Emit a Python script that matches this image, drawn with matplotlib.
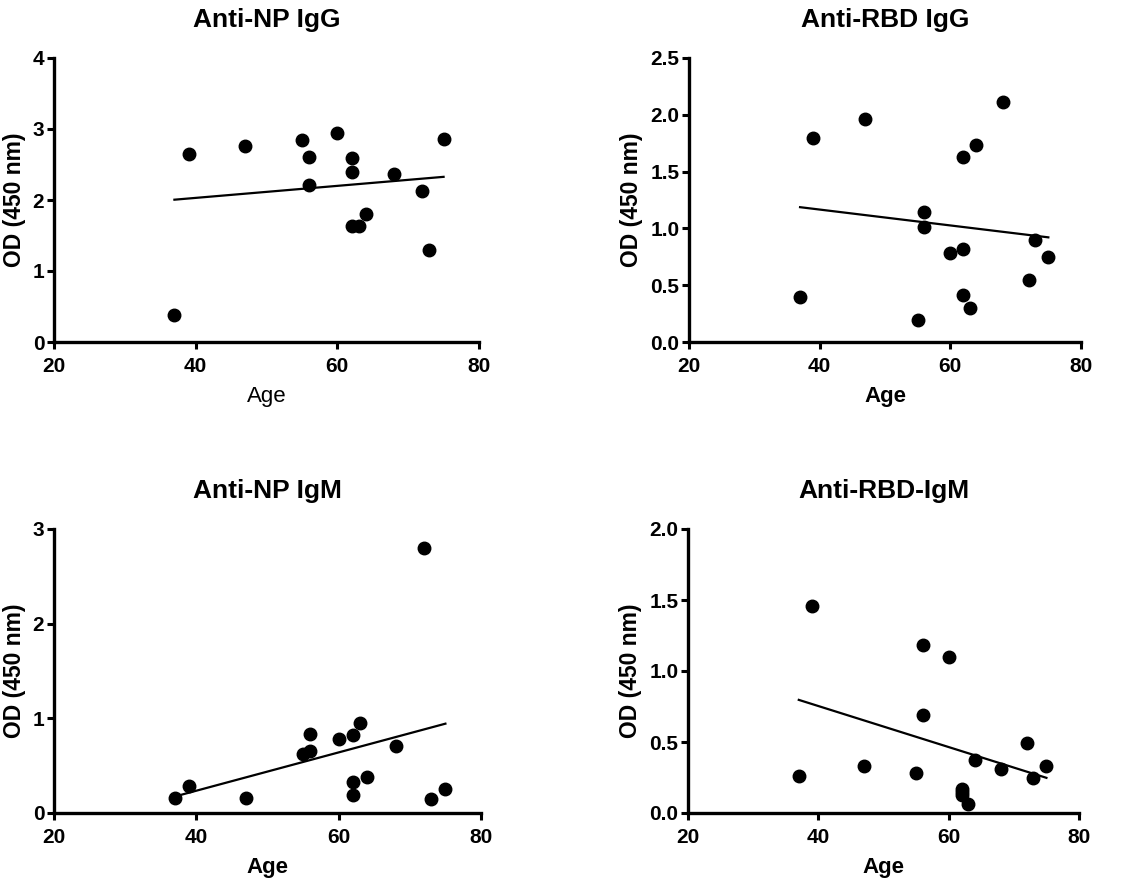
import numpy as np
import matplotlib
matplotlib.use('Agg')
import matplotlib.pyplot as plt
from matplotlib.ticker import FormatStrFormatter

plt.rcParams['font.family'] = ['Liberation Sans', 'DejaVu Sans']

# ages (same donors in every panel)
age = [37, 39, 47, 55, 56, 56, 60, 62, 62, 62, 63, 64, 68, 72, 73, 75]

np_igg = [0.38, 2.65, 2.76, 2.85, 2.61, 2.21, 2.94, 2.59, 2.40, 1.64, 1.63, 1.80, 2.37, 2.12, 1.30, 2.86]
rbd_igg = [0.40, 1.80, 1.96, 0.19, 1.14, 1.01, 0.78, 1.63, 0.82, 0.41, 0.30, 1.73, 2.11, 0.55, 0.90, 0.75]
np_igm = [0.16, 0.28, 0.16, 0.62, 0.83, 0.65, 0.78, 0.82, 0.33, 0.19, 0.95, 0.38, 0.71, 2.80, 0.15, 0.25]
rbd_igm = [0.26, 1.46, 0.33, 0.28, 1.18, 0.69, 1.10, 0.17, 0.13, 0.15, 0.06, 0.37, 0.31, 0.49, 0.25, 0.33]

titles = ['Anti-NP IgG', 'Anti-RBD IgG', 'Anti-NP IgM', 'Anti-RBD-IgM']
series = [np_igg, rbd_igg, np_igm, rbd_igm]
ymax = [4, 2.5, 3, 2.0]
ystep = [1, 0.5, 1, 0.5]
yfmt = ['%d', '%.1f', '%d', '%.1f']

W, H = 1138, 882
# axes boxes in pixels: left, top, right, bottom
boxes = [(54, 58, 479, 342), (689, 58, 1081, 342),
         (54, 529, 481, 813), (688, 529, 1079, 813)]

fig = plt.figure(figsize=(W / 100, H / 100), dpi=100)

for i in range(4):
    l, t, r, b = boxes[i]
    ax = fig.add_axes([l / W, 1 - b / H, (r - l) / W, (b - t) / H])
    x = np.array(age)
    y = np.array(series[i])
    ax.plot(x, y, 'o', color='black', markersize=9, clip_on=False, zorder=3)
    k, c = np.polyfit(x, y, 1)
    xs = np.array([x.min(), x.max()])
    ax.plot(xs, k * xs + c, color='black', lw=1.6)

    ax.set_xlim(20, 80)
    ax.set_ylim(0, ymax[i])
    ax.set_xticks([20, 40, 60, 80])
    ax.set_yticks(np.arange(0, ymax[i] + 0.001, ystep[i]))
    ax.yaxis.set_major_formatter(FormatStrFormatter(yfmt[i]))
    for s in ['top', 'right']:
        ax.spines[s].set_visible(False)
    for s in ['left', 'bottom']:
        ax.spines[s].set_linewidth(2.4)
    ax.tick_params(width=2.2, length=5, labelsize=15, direction='out')
    ax.tick_params(axis='x', pad=6)
    ax.tick_params(axis='y', pad=2)
    for lab in ax.get_xticklabels() + ax.get_yticklabels():
        lab.set_fontweight('bold')

    ax.set_title(titles[i], fontsize=19, fontweight='bold', pad=22)
    ax.set_ylabel('OD (450 nm)', fontsize=16.5, fontweight='bold', labelpad=5)
    if i == 0:
        ax.set_xlabel('Age', fontsize=16, labelpad=7)
    else:
        ax.set_xlabel('Age', fontsize=16, fontweight='bold', labelpad=7)

fig.savefig('out.png', dpi=100)
